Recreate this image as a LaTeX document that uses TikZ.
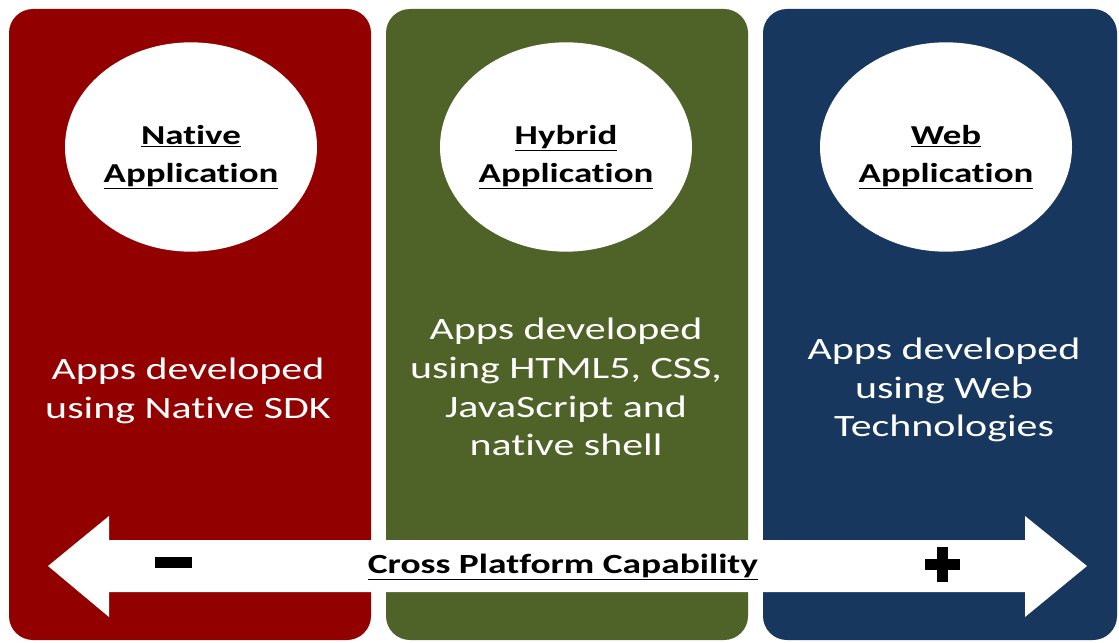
\documentclass[tikz,border=0pt]{standalone}
\usepackage{fontspec}
\usetikzlibrary{shapes.geometric}
\newfontfamily\cfont[FakeStretch=1.35,Ligatures={NoCommon,NoRequired,NoContextual}]{Carlito}
\definecolor{panelred}{HTML}{930000}
\definecolor{panelgreen}{HTML}{4F6228}
\definecolor{panelblue}{HTML}{17375E}
\begin{document}
\begin{tikzpicture}[x=0.75pt,y=-0.75pt,
  panel/.style={rounded corners=18pt},
  bubble/.style={ellipse, fill=white, minimum width=189pt, minimum height=157pt, inner sep=0pt},
  titletext/.style={font=\cfont\bfseries\fontsize{20.5}{28.5}\selectfont, align=center, text=black},
  bodytext/.style={font=\cfont\fontsize{23.3}{29}\selectfont, align=center, text=white}]
\useasboundingbox (0,0) rectangle (1119,642);
\fill[white] (0,0) rectangle (1119,642);
% panels
\fill[panelred,panel] (9,9) rectangle (371,640);
\fill[panelgreen,panel] (386,9) rectangle (748,640);
\fill[panelblue,panel] (763,9) rectangle (1117,640);
% bubbles
\node[bubble] (nb) at (191,147) {};
\node[bubble] (hb) at (566,147) {};
\node[bubble] (wb) at (946,147) {};
\node[titletext] (nt) at (191,157) {\underline{Native}\\\underline{Application}};
\node[titletext] (ht) at (566,157) {\underline{Hybrid}\\\underline{Application}};
\node[titletext] (wt) at (946,157) {\underline{Web}\\\underline{Application}};
% body texts
\node[bodytext] (nd) at (188,391) {Apps developed\\using Native SDK};
\node[bodytext] (hd) at (566,387) {Apps developed\\using HTML5, CSS,\\JavaScript and\\native shell};
\node[bodytext] (wd) at (944,390) {Apps developed\\using Web\\Technologies};
% double arrow
\fill[white] (48,566) -- (109,516) -- (109,540) -- (1025,540) -- (1025,516)
  -- (1087,566) -- (1025,617) -- (1025,592) -- (109,592) -- (109,617) -- cycle;
\node[font=\cfont\bfseries\fontsize{20.8}{22}\selectfont, text=black] (cp) at (563,567) {\underline{Cross Platform Capability}};
\fill[black] (155,557) rectangle (192,568);
\fill[black] (937,547) rectangle (948,582);
\fill[black] (925,559) rectangle (960,570);
\end{tikzpicture}
\end{document}
